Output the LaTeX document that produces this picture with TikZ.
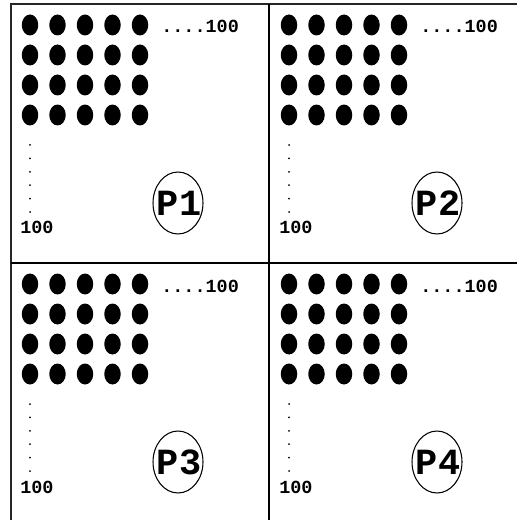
\documentclass[tikz,border=0pt]{standalone}
\usepackage{fontspec}
\setmonofont{Liberation Mono}
\tikzset{
  gridline/.style={draw=black,line width=1.1pt},
  frameline/.style={draw=black!85,line width=0.8pt},
  procdot/.style={fill=black},
  rowdot/.style={fill=black},
  countlbl/.style={inner sep=0pt,font=\fontsize{10.5}{11}\selectfont\ttfamily\bfseries},
  proclbl/.style={inner sep=0pt,font=\fontsize{21}{21}\selectfont\ttfamily\bfseries},
  procring/.style={draw=black,line width=0.6pt},
}

\begin{document}
\begin{tikzpicture}[x=0.02cm,y=-0.02cm]
  \useasboundingbox (0,0) rectangle (517,520);
  % outer frame (cut at right and bottom)
  \draw[frameline] (11,520) -- (11,4) -- (517,4);
  \draw[gridline] (269,4) -- (269,520);
  \draw[gridline] (11,263) -- (517,263);
  % one cell per processor
  \foreach \p/\ox/\oy in {1/0/0,2/259/0,3/0/259,4/259/259}{
    \begin{scope}[shift={(\ox,\oy)}]
      \foreach \r in {0,...,3}
        \foreach \c in {0,...,4}
          \fill[procdot] (30+27.5*\c,25+30*\r) ellipse (0.165cm and 0.21cm);
      \foreach \k in {0,...,5}
        \fill[rowdot] (30,145+13.4*\k) circle (0.02cm);
      \node[countlbl,anchor=base west] (top\p) at (161,33) {....100};
      \node[countlbl,anchor=base west] (side\p) at (20,234) {100};
      \node[proclbl] (p\p) at (179,203) {P\p};
      \draw[procring] (178,203) ellipse (0.5cm and 0.62cm);
    \end{scope}
  }
\end{tikzpicture}
\end{document}
